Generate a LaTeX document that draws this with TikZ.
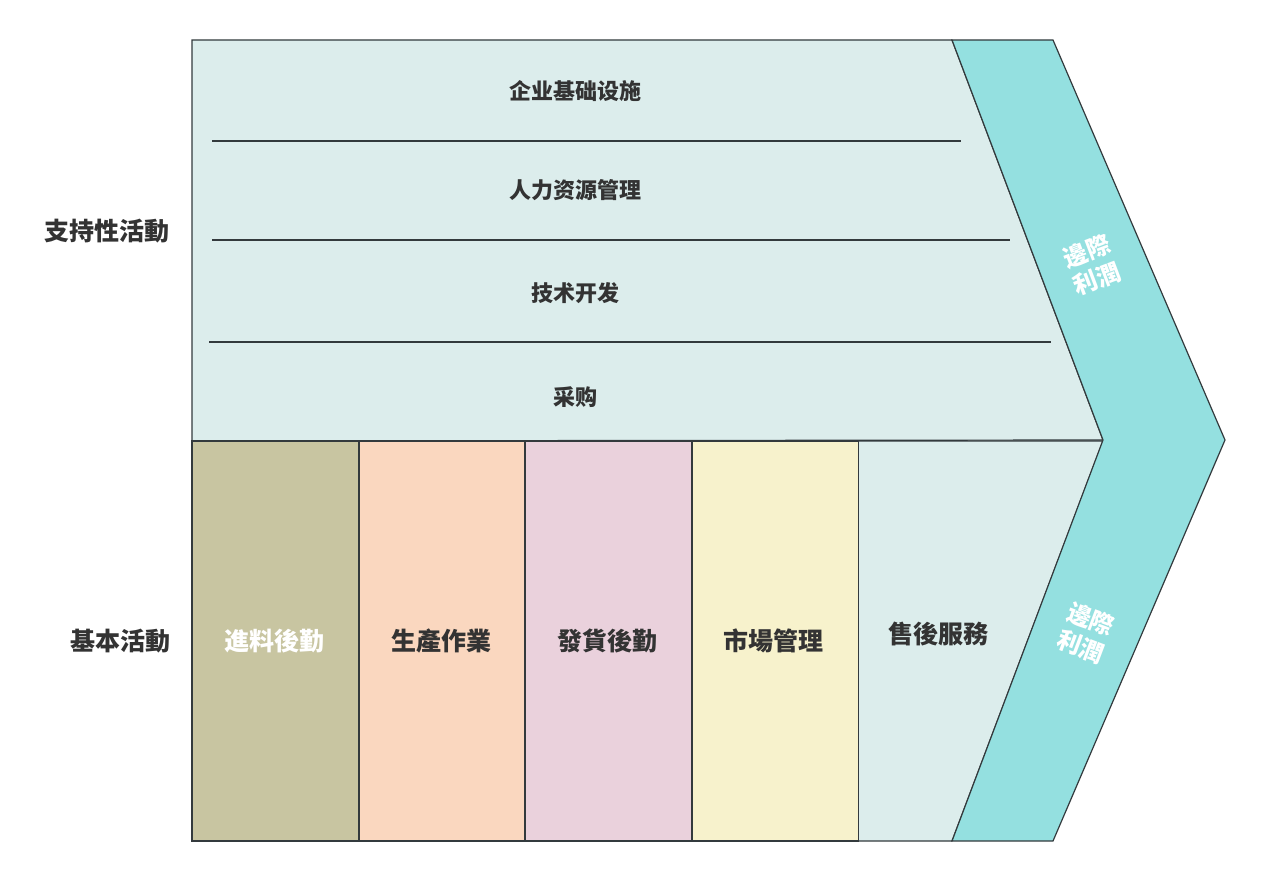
\documentclass[tikz,border=0pt]{standalone}
\usepackage{fontspec}
\setmainfont{Noto Sans CJK SC}
\usetikzlibrary{calc}

\definecolor{suppbg}{HTML}{DCEDEC}
\definecolor{margin}{HTML}{94E0E0}
\definecolor{inbound}{HTML}{C8C5A1}
\definecolor{operat}{HTML}{FAD7BF}
\definecolor{outbound}{HTML}{EAD1DC}
\definecolor{market}{HTML}{F7F2CC}
\definecolor{edge}{HTML}{333A3D}
\definecolor{ink}{HTML}{333333}

\begin{document}
\begin{tikzpicture}[x=1pt,y=-1pt,line width=1.2pt,
    lbl/.style={font=\bfseries\fontsize{22}{26}\selectfont,text=ink},
    biglbl/.style={font=\bfseries\fontsize{25}{30}\selectfont,text=ink},
    mlbl/.style={font=\bfseries\fontsize{24}{29}\selectfont,text=white,align=center,inner sep=1pt}]
                \useasboundingbox (0,0) rectangle (1261,877);
                \coordinate (A) at (192,40);
                \coordinate (B) at (952,40);
                \coordinate (C) at (1053,40);
                \coordinate (D) at (1225,440);
                \coordinate (E) at (1053,841);
                \coordinate (F) at (952,841);
                \coordinate (G) at (1103,440);
                \coordinate (H) at (192,441);

                % support activities
                \draw[fill=suppbg,draw=edge] (A) -- (B) -- (G) -- (H) -- cycle;
                \draw[edge] (212,141) -- (961,141);
                \draw[edge] (212,240) -- (1010,240);
                \draw[edge] (209,342) -- (1051,342);
                \node[lbl] (infra) at (575,91) {企业基础设施};
                \node[lbl] (hr) at (575,190) {人力资源管理};
                \node[lbl] (tech) at (575,293) {技术开发};
                \node[lbl] (buy) at (575,397) {采购};

                % primary activities
                \draw[fill=suppbg,draw=edge] (858,441) -- ($(G)+(0,1)$) -- (F) -- (858,841) -- cycle;
                \foreach \x/\c in {192/inbound,359/operat,525/outbound,692/market}{
                    \draw[fill=\c,draw=edge] (\x,441) rectangle ++(166.5,400);
                }
                \node[biglbl,text=white] (inb) at (274,641) {進料後勤};
                \node[biglbl] (ops) at (441,641) {生產作業};
                \node[biglbl] (outb) at (607,641) {發貨後勤};
                \node[biglbl] (mkt) at (773,641) {市場管理};
                \node[biglbl] (svc) at (938,634) {售後服務};

                % margin chevron
                \draw[fill=margin,draw=edge] (B) -- (C) -- (D) -- (E) -- (F) -- (G) -- cycle;
                \node[mlbl,rotate=20.7] (mtop) at (1092,265) {邊際\\利潤};
                \node[mlbl,rotate=-20.7] (mbot) at (1086,633) {邊際\\利潤};

                % row labels
                \node[biglbl] (support) at (107,231) {支持性活動};
                \node[biglbl] (primary) at (120,641) {基本活動};
            \end{tikzpicture}
\end{document}
